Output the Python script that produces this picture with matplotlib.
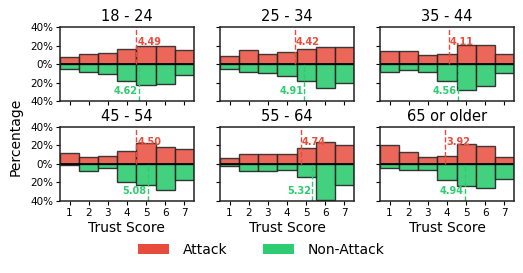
import matplotlib
matplotlib.use("Agg")
import matplotlib.pyplot as plt
import numpy as np
from matplotlib.patches import Patch

scores = [1, 2, 3, 4, 5, 6, 7]
groups = ["18 - 24", "25 - 34", "35 - 44", "45 - 54", "55 - 64", "65 or older"]

# percentage of respondents per trust score
attack = [
    [7.6, 10.8, 11.9, 16.6, 19.1, 19.1, 15.1],
    [9.0, 14.8, 10.8, 13.0, 16.6, 18.7, 18.0],
    [14.1, 14.1, 10.1, 11.2, 20.2, 20.2, 10.8],
    [11.4, 7.9, 8.9, 13.6, 22.5, 18.2, 16.4],
    [6.4, 10.4, 10.7, 10.4, 16.8, 23.2, 20.7],
    [20.0, 12.9, 7.9, 8.6, 21.4, 19.6, 7.9],
]
non_attack = [
    [5.3, 8.5, 10.3, 18.8, 22.8, 22.0, 12.3],
    [5.0, 8.6, 9.7, 13.0, 18.0, 25.9, 20.9],
    [8.3, 6.1, 8.3, 18.0, 27.7, 23.4, 9.4],
    [1.4, 7.5, 4.3, 19.3, 22.9, 28.6, 17.1],
    [2.1, 7.9, 7.9, 6.4, 13.9, 39.3, 23.2],
    [3.9, 6.1, 6.1, 17.9, 23.6, 26.1, 16.1],
]
attack_mean = [4.49, 4.42, 4.11, 4.50, 4.74, 3.92]
non_attack_mean = [4.62, 4.91, 4.56, 5.08, 5.32, 4.94]

RED = "#e74c3c"
GREEN = "#2ecc71"

fig = plt.figure(figsize=(5.23, 2.73), dpi=100)
lefts = [0.1147, 0.4207, 0.7266]
bottoms = [0.630, 0.264]
w, h = 0.256, 0.271

for i, grp in enumerate(groups):
    r, c = divmod(i, 3)
    ax = fig.add_axes([lefts[c], bottoms[r], w, h])
    ax.bar(scores, attack[i], width=1.0, color=RED, alpha=0.85,
           edgecolor="#222222", linewidth=1.0)
    ax.bar(scores, -np.array(non_attack[i]), width=1.0, color=GREEN, alpha=0.9,
           edgecolor="#222222", linewidth=1.0)
    ax.axhline(0, color="black", linewidth=1.2)

    ax.axvline(attack_mean[i], ymin=0.5, ymax=1.0, color=RED, ls="--", lw=1.0)
    ax.axvline(non_attack_mean[i], ymin=0.0, ymax=0.5, color=GREEN, ls="--", lw=1.0)
    ax.text(attack_mean[i] + 0.05, 24, f"{attack_mean[i]:.2f}", color=RED,
            fontsize=7, fontweight="bold", ha="left", va="center")
    ax.text(non_attack_mean[i] - 0.05, -29.5, f"{non_attack_mean[i]:.2f}", color=GREEN,
            fontsize=7, fontweight="bold", ha="right", va="center")

    ax.set_xlim(0.5, 7.5)
    ax.set_ylim(-40, 40)
    ax.set_xticks(scores)
    ax.set_yticks([-40, -20, 0, 20, 40])
    ax.set_title(grp, fontsize=10.5, pad=4)
    ax.tick_params(labelsize=7.5, length=3, pad=2)
    if c == 0:
        ax.set_yticklabels(["40%", "20%", "0%", "20%", "40%"])
    else:
        ax.set_yticklabels([])
    if r == 0:
        ax.set_xticklabels([])
    else:
        ax.set_xlabel("Trust Score", fontsize=10, labelpad=2)
    for s in ax.spines.values():
        s.set_linewidth(1.1)
        s.set_color("#222222")

fig.text(0.03, 0.50, "Percentage", rotation=90, fontsize=10, ha="center", va="center")

handles = [Patch(facecolor=RED, label="Attack"), Patch(facecolor=GREEN, label="Non-Attack")]
fig.legend(handles=handles, loc="center", bbox_to_anchor=(0.5, 0.085), ncol=2,
           frameon=False, fontsize=10, handlelength=2.2, handleheight=0.8,
           columnspacing=2.6, handletextpad=1.0)

fig.savefig("out.png", dpi=100)
